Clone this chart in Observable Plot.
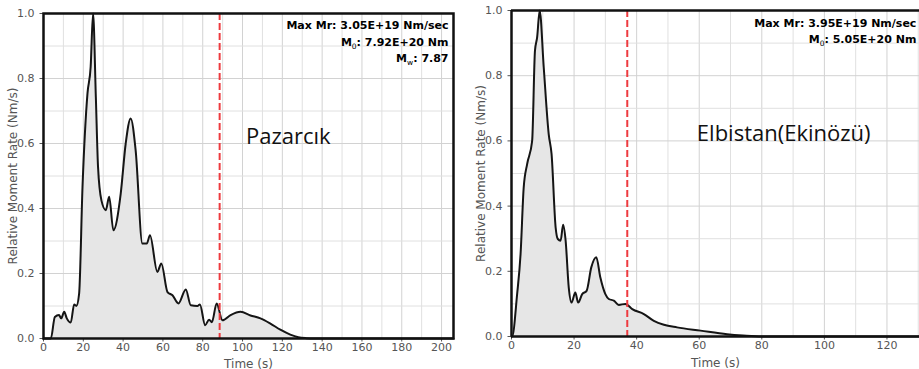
<!DOCTYPE html>
<html>
<head>
<meta charset="utf-8">
<script src="https://cdn.jsdelivr.net/npm/d3@7"></script>
<script src="https://cdn.jsdelivr.net/npm/@observablehq/plot@0.6"></script>
<style>
  html, body { margin: 0; padding: 0; background: #fff; overflow: hidden; }
  #wrap { position: relative; width: 919px; height: 369px; }
  .panel { position: absolute; top: 0; }
</style>
</head>
<body>
<div id="wrap">
  <div class="panel" id="left" style="left:0"></div>
  <div class="panel" id="right" style="left:460px"></div>
</div>
<script>
// ---- Data: Pazarcık source time function ----
const pazTime = [0, 3.7, 5.7, 7.8, 8.9, 10.4, 11.7, 13.7, 15.4, 16.5, 17.9, 19.6, 22.1, 23.7, 24.9, 26.3, 27.4, 29.1, 31.3, 33, 35.1, 38.8, 41.3, 43.8, 46.3, 49.7, 51.9, 53.5, 57.2, 59.2, 62.3, 64.8, 67.8, 71.5, 74, 77.3, 78.6, 81.2, 83.2, 84.6, 87, 89.9, 94, 99, 104, 109, 114, 119, 124, 128, 132, 136, 206];
const pazRate = [0, 0, 0.066, 0.072, 0.062, 0.082, 0.062, 0.049, 0.105, 0.10, 0.138, 0.466, 0.754, 0.836, 1.0, 0.743, 0.528, 0.425, 0.395, 0.436, 0.333, 0.446, 0.60, 0.677, 0.579, 0.292, 0.292, 0.318, 0.205, 0.231, 0.143, 0.133, 0.108, 0.151, 0.102, 0.10, 0.105, 0.041, 0.058, 0.05, 0.108, 0.056, 0.072, 0.082, 0.071, 0.062, 0.046, 0.027, 0.012, 0.004, 0.001, 0, 0];

// ---- Data: Elbistan (Ekinözü) source time function ----
const elbTime = [0, 0.2, 1.8, 2.9, 3.9, 5.0, 6.6, 7.5, 8.2, 9.0, 10.3, 11.9, 12.8, 14.1, 14.8, 15.7, 16.5, 17.3, 18.3, 19.2, 20.4, 21.3, 22.6, 24.0, 25.5, 27.1, 28.4, 30.0, 31.1, 32.7, 34.3, 36.4, 38.6, 42.3, 45.5, 48.7, 52.9, 60.4, 68.9, 74, 80, 131];
const elbRate = [0, 0, 0.13, 0.253, 0.457, 0.529, 0.60, 0.877, 0.918, 1.0, 0.826, 0.62, 0.56, 0.335, 0.299, 0.294, 0.343, 0.294, 0.15, 0.104, 0.135, 0.104, 0.13, 0.14, 0.212, 0.243, 0.181, 0.13, 0.115, 0.11, 0.097, 0.10, 0.084, 0.069, 0.048, 0.036, 0.028, 0.018, 0.007, 0.003, 0, 0];

// ---- Annotations ----
const pazNotes = ["Max Mr: 3.05E+19 Nm/sec", "M_0: 7.92E+20 Nm", "M_w: 7.87"];
const elbNotes = ["Max Mr: 3.95E+19 Nm/sec", "M_0: 5.05E+20 Nm"];
const panelNames = ["Pazarcık", "Elbistan(Ekinözü)"];
const pazMarker = 88.5;
const elbMarker = 37;

const yTicks = [0, 0.2, 0.4, 0.6, 0.8, 1.0];
const yMinor = [0.1, 0.3, 0.5, 0.7, 0.9];

function panel(cfg) {
  const data = cfg.time.map((t, i) => ({t, v: cfg.rate[i]}));
  const xMajor = d3.range(0, cfg.xmax + 0.001, 20);
  const xMinor = d3.range(10, cfg.xmax, 20);
  const notes = cfg.notes.map((s, i) => ({s, y: cfg.noteY[i]}));
  const marks = [
    Plot.gridX(xMinor, {stroke: "#e0e0e0", strokeOpacity: 1}),
    Plot.gridX(xMajor, {stroke: "#d2d2d2", strokeOpacity: 1}),
    Plot.gridY(yMinor, {stroke: "#e0e0e0", strokeOpacity: 1}),
    Plot.gridY(yTicks, {stroke: "#d2d2d2", strokeOpacity: 1}),
    Plot.areaY(data, {x: "t", y: "v", fill: "#e6e6e6", curve: "monotone-x"}),
    Plot.lineY(data, {x: "t", y: "v", stroke: "#151515", strokeWidth: 2, curve: "monotone-x"}),
    Plot.ruleX([cfg.marker], {stroke: "#ee3a3f", strokeWidth: 2, strokeDasharray: "7,3"}),
    Plot.text(notes, {x: cfg.noteX, y: "y", text: "s", textAnchor: "end", fontWeight: "bold", fontSize: 11, fill: "#000", fontFamily: "DejaVu Sans"}),
    Plot.text([cfg.name], {x: cfg.nameX, y: cfg.nameY, text: d => d, fontSize: 22, fill: "#111", fontFamily: "Open Sans"})
  ];
  if (cfg.fullFrame) {
    marks.push(Plot.frame({stroke: "#111", strokeWidth: 2.5}));
  } else {
    marks.push(Plot.ruleY([0, 1], {stroke: "#111", strokeWidth: 2.5}));
    marks.push(Plot.ruleX([0], {stroke: "#111", strokeWidth: 2.5}));
  }
  const svg = Plot.plot({
    width: cfg.width, height: 369,
    marginLeft: cfg.ml, marginRight: cfg.mr, marginTop: cfg.mt, marginBottom: cfg.mb,
    style: {fontFamily: "DejaVu Sans", fontSize: "11px", color: "#555", background: "#fff"},
    x: {domain: [0, cfg.xmax], ticks: xMajor, tickSize: 3.5, tickPadding: 1.5, tickFormat: d3.format("d"),
        label: "Time (s)", labelAnchor: "center", labelArrow: "none", labelOffset: cfg.xlo},
    y: {domain: [0, 1], ticks: yTicks, tickSize: 3.5, tickFormat: d3.format(".1f"),
        label: "Relative Moment Rate (Nm/s)", labelAnchor: "center", labelArrow: "none", labelOffset: cfg.ylo},
    marks
  });
  // axis labels slightly larger than tick labels
  d3.select(svg).selectAll("text").each(function() {
    if (this.textContent === "Time (s)" || this.textContent === "Relative Moment Rate (Nm/s)") {
      d3.select(this).attr("font-size", 12);
    }
  });
  // subscripts for M_0 / M_w
  d3.select(svg).selectAll("text").each(function() {
    const el = d3.select(this);
    const txt = this.textContent;
    const m = /^M_(\w)(.*)$/.exec(txt);
    if (!m) return;
    el.text(null);
    el.append("tspan").text("M");
    el.append("tspan").attr("dy", 3).attr("font-size", 7.5).attr("font-weight", "normal").text(m[1]);
    el.append("tspan").attr("dy", -3).text(m[2]);
  });
  return svg;
}

document.getElementById("left").append(panel({
  time: pazTime, rate: pazRate, notes: pazNotes, name: panelNames[0], marker: pazMarker,
  width: 460, ml: 43, mr: 7, mt: 13, mb: 31, xmax: 206, ylo: 35, xlo: 29,
  noteX: 203.5, noteY: [0.964, 0.912, 0.862], nameX: 123, nameY: 0.62, fullFrame: true
}));
document.getElementById("right").append(panel({
  time: elbTime, rate: elbRate, notes: elbNotes, name: panelNames[1], marker: elbMarker,
  width: 459, ml: 51, mr: 0, mt: 10, mb: 33, xmax: 130.4, ylo: 35, xlo: 30,
  noteX: 129.4, noteY: [0.96, 0.91], nameX: 87, nameY: 0.622, fullFrame: false
}));
</script>
</body>
</html>
